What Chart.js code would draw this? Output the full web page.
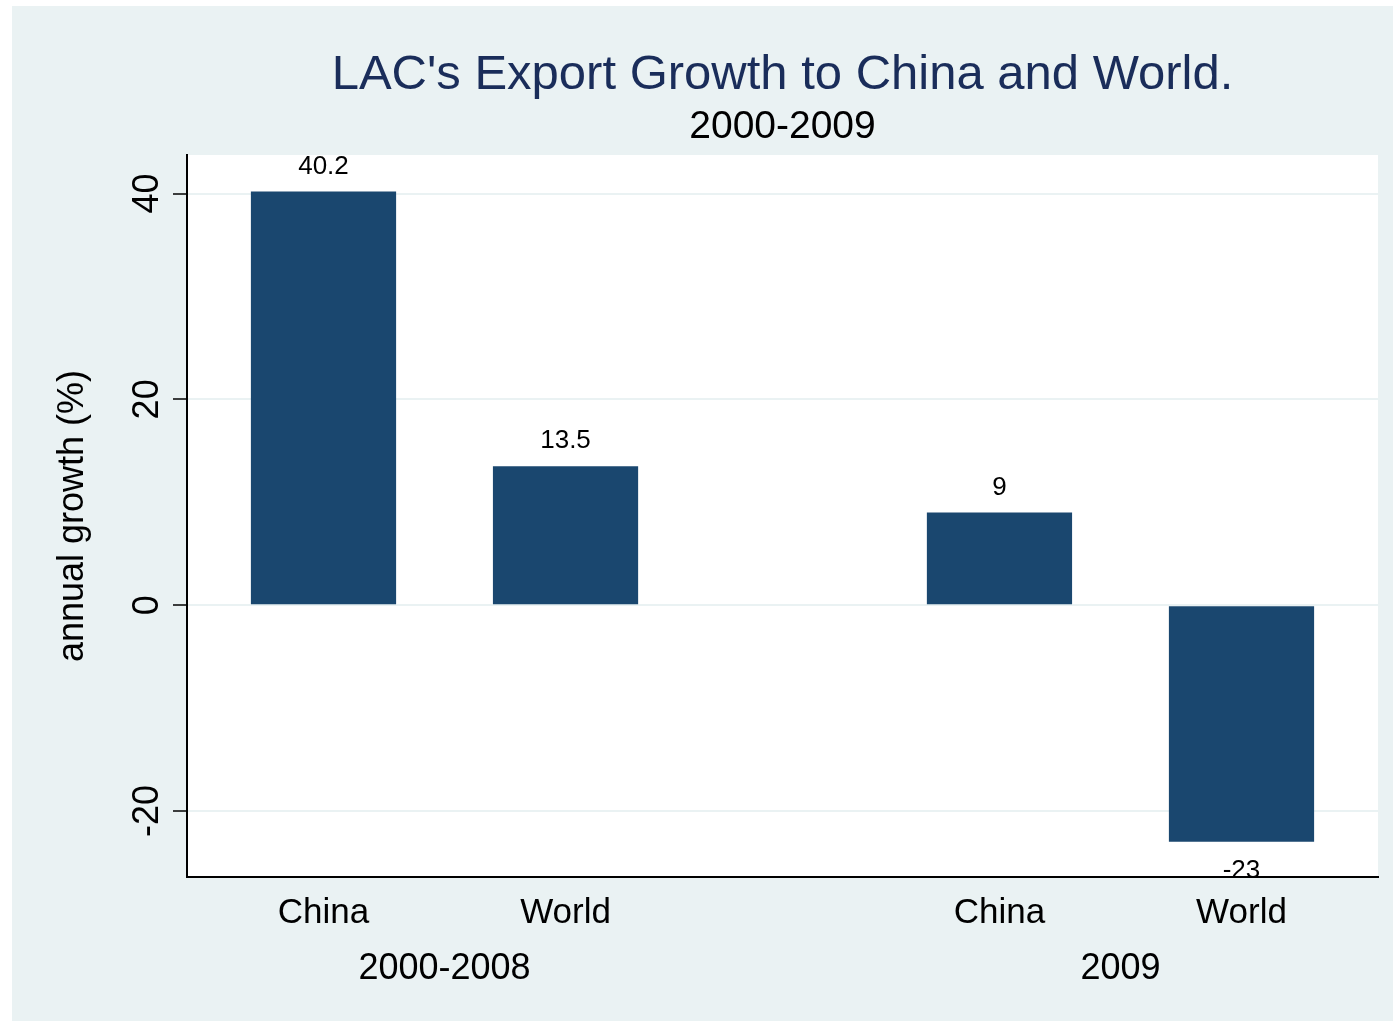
<!DOCTYPE html>
<html>
<head>
<meta charset="utf-8">
<script src="https://cdn.jsdelivr.net/npm/chart.js@4/dist/chart.umd.min.js"></script>
<style>
    body { margin: 0; background: #ffffff; }
    #wrap { position: absolute; left: 12px; top: 6px; width: 1381px; height: 1015px; background: #eaf2f3; }
</style>
</head>
<body>
<div id="wrap"><canvas id="chart"></canvas></div>
<script>
// data
const categories = ["China", "World", "China", "World"];
const groups = ["2000-2008", "2009"];
const groupOf = [0, 0, 1, 1];
const values = [40.2, 13.5, 9, -23];
const yTicks = [-20, 0, 20, 40];

const titleText = "LAC's Export Growth to China and World.";
const subtitleText = "2000-2009";
const yTitle = "annual growth (%)";

// layout: bars one unit apart inside a group, wider gap between groups
const GROUP_GAP = 1.793;
const xPos = categories.map((c, i) => {
    const g = groupOf[i];
    const j = groupOf.slice(0, i).filter(v => v === g).length;
    return g * (1 + GROUP_GAP) + j;
});

const FONT = "'Liberation Sans', Arial, Helvetica, sans-serif";

const decorations = {
    id: "decorations",
    beforeDraw(chart) {
        const { ctx, chartArea: a } = chart;
        ctx.save();
        ctx.fillStyle = "#ffffff";
        ctx.fillRect(a.left, a.top, a.right - a.left, a.bottom - a.top);
        ctx.restore();
    },
    afterDraw(chart) {
        const { ctx, chartArea: a } = chart;
        const x = chart.scales.x, y = chart.scales.y;
        const cx = (a.left + a.right) / 2;
        ctx.save();

        // titles
        ctx.textAlign = "center";
        ctx.textBaseline = "alphabetic";
        ctx.fillStyle = "#1a2d5a";
        ctx.font = `49px ${FONT}`;
        ctx.fillText(titleText, cx, 83);
        ctx.fillStyle = "#000000";
        ctx.font = `39px ${FONT}`;
        ctx.fillText(subtitleText, cx, 132);

        // y tick labels, rotated
        ctx.font = `36px ${FONT}`;
        yTicks.forEach(t => {
            ctx.save();
            ctx.translate(146, y.getPixelForValue(t));
            ctx.rotate(-Math.PI / 2);
            ctx.fillText(String(t), 0, 0);
            ctx.restore();
        });

        // y title
        ctx.save();
        ctx.translate(71, (a.top + a.bottom) / 2);
        ctx.rotate(-Math.PI / 2);
        ctx.fillText(yTitle, 0, 0);
        ctx.restore();

        // category and group labels
        ctx.font = `35px ${FONT}`;
        categories.forEach((c, i) => ctx.fillText(c, x.getPixelForValue(xPos[i]), 917));
        ctx.font = `36px ${FONT}`;
        groups.forEach((g, gi) => {
            const idx = groupOf.map((v, i) => v === gi ? i : -1).filter(i => i >= 0);
            const mid = (xPos[idx[0]] + xPos[idx[idx.length - 1]]) / 2;
            ctx.fillText(g, x.getPixelForValue(mid), 973);
        });

        // value labels
        ctx.font = `26px ${FONT}`;
        values.forEach((v, i) => {
            const px = x.getPixelForValue(xPos[i]);
            const py = y.getPixelForValue(v);
            ctx.fillText(String(v), px, v >= 0 ? py - 18 : py + 36);
        });

        ctx.restore();
    }
};

new Chart(document.getElementById("chart"), {
    type: "bar",
    data: {
        datasets: [{
            data: values.map((v, i) => ({ x: xPos[i], y: v })),
            backgroundColor: "#1a476f",
            borderWidth: 0,
            categoryPercentage: 1,
            barPercentage: 0.6
        }]
    },
    options: {
        responsive: true,
        maintainAspectRatio: false,
        animation: false,
        layout: { padding: { left: 0, right: 15, top: 149, bottom: 0 } },
        plugins: {
            legend: { display: false },
            tooltip: { enabled: false },
            title: { display: false }
        },
        scales: {
            x: {
                type: "linear",
                offset: false,
                min: -0.564,
                max: 4.357,
                afterBuildTicks: s => { s.ticks = xPos.map(v => ({ value: v })); },
                afterFit: s => { s.height = 144; },
                ticks: { display: false },
                grid: { display: false },
                border: { display: true, color: "#000000", width: 2 }
            },
            y: {
                min: -26.42,
                max: 43.75,
                afterBuildTicks: s => { s.ticks = yTicks.map(v => ({ value: v })); },
                afterFit: s => { s.width = 175; },
                ticks: { display: false },
                grid: {
                    color: "#eaf2f3",
                    lineWidth: 2,
                    drawTicks: true,
                    tickLength: 14,
                    tickColor: "#000000",
                    tickWidth: 1.5
                },
                border: { display: true, color: "#000000", width: 2 }
            }
        }
    },
    plugins: [decorations]
});
</script>
</body>
</html>
